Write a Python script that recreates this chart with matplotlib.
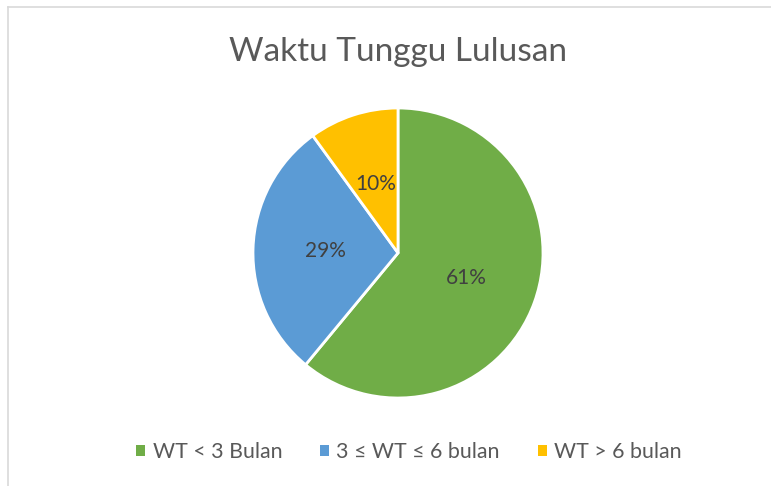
import matplotlib.pyplot as plt
from matplotlib.lines import Line2D
from matplotlib.patches import Patch

# Data
categories = ["WT < 3 Bulan", "3 \u2264 WT \u2264 6 bulan", "WT > 6 bulan"]
shares = [61, 29, 10]
colors = ["#70AD47", "#5B9BD5", "#FFC000"]

plt.rcParams["font.family"] = ["Lato", "DejaVu Sans"]

W, H = 771, 486
fig = plt.figure(figsize=(W / 100, H / 100), dpi=100)

# chart-area border (only top and left edges visible in the crop)
fig.add_artist(Line2D([7.5 / W, 7.5 / W], [0, 1 - 7.5 / H], color="#D9D9D9", lw=1.2,
                      transform=fig.transFigure))
fig.add_artist(Line2D([7.5 / W, 1], [1 - 7.5 / H, 1 - 7.5 / H], color="#D9D9D9", lw=1.2,
                      transform=fig.transFigure))

cx, cy, r = 398, 253, 145
ax = fig.add_axes([(cx - r) / W, (H - cy - r) / H, 2 * r / W, 2 * r / H])
wedges, texts, autotexts = ax.pie(
    shares,
    colors=colors,
    startangle=90,
    counterclock=False,
    autopct="%d%%",
    pctdistance=0.5,
    wedgeprops=dict(edgecolor="white", linewidth=2.0),
    textprops=dict(color="#404040", fontsize=15),
)
ax.set_xlim(-1, 1)
ax.set_ylim(-1, 1)
ax.set_aspect("equal")

fig.text(cx / W, 1 - 52 / H, "Waktu Tunggu Lulusan", ha="center", va="center",
         fontsize=24, color="#595959")

handles = [Patch(facecolor=c, edgecolor="none") for c in colors]
fig.legend(handles, categories, loc="center", bbox_to_anchor=(409 / W, 1 - 452 / H),
           ncol=3, frameon=False, fontsize=15.4, labelcolor="#595959",
           handlelength=0.42, handleheight=0.42, handletextpad=0.33, columnspacing=1.78)

fig.savefig("out.png", dpi=100)
